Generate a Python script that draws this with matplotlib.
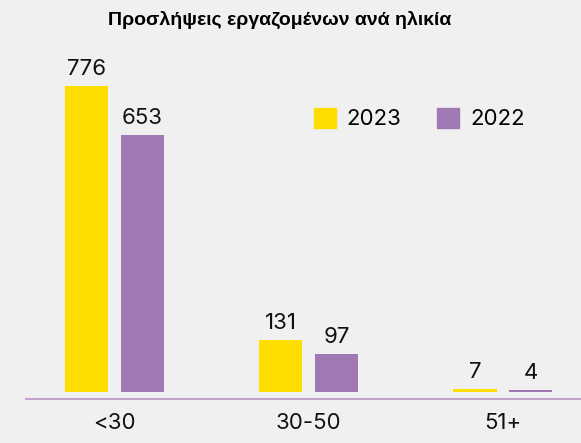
import numpy as np
import matplotlib
matplotlib.use('Agg')
import matplotlib.pyplot as plt
from matplotlib.patches import Patch

# data
categories = ['<30', '30-50', '51+']
values_2023 = [776, 131, 7]
values_2022 = [653, 97, 4]
series_names = ['2023', '2022']

title = 'Προσλήψεις εργαζομένων ανά ηλικία'

bg = '#f0f0f0'
yellow = '#ffdd00'
purple = '#a078b4'
line_col = '#c0a0cc'

plt.rcParams['font.family'] = ['Inter', 'DejaVu Sans']

fig = plt.figure(figsize=(5.81, 4.43), dpi=100, facecolor=bg)
ax = fig.add_axes([26 / 581, 44 / 443, 1 - 26 / 581, (399 - 60) / 443])
ax.set_facecolor(bg)

x = np.arange(len(categories))
w = 0.222
off = 0.144
b1 = ax.bar(x - off, values_2023, w, color=yellow)
b2 = ax.bar(x + off, values_2022, w, color=purple)

for bars, vals in [(b1, values_2023), (b2, values_2022)]:
    for bar, v in zip(bars, vals):
        ax.annotate(str(v), (bar.get_x() + bar.get_width() / 2, v),
                    xytext=(0, 5), textcoords='offset points',
                    ha='center', va='bottom', fontsize=16, color='#111111')

ax.set_xlim(-0.456, 2.402)
ax.set_ylim(-17.8, 842)
ax.set_xticks(x)
ax.set_xticklabels(categories, fontsize=16, color='#111111')
ax.tick_params(axis='x', length=0, pad=10)
ax.set_yticks([])
for s in ['top', 'right', 'left']:
    ax.spines[s].set_visible(False)
ax.spines['bottom'].set_color(line_col)
ax.spines['bottom'].set_linewidth(1.5)

handles = [Patch(color=yellow), Patch(color=purple)]
ax.legend(handles, series_names, loc='upper left', bbox_to_anchor=(0.482, 0.918),
          ncol=2, frameon=False, fontsize=16, handlelength=1.0, handleheight=1.0,
          handletextpad=0.5, columnspacing=1.6)

fig.text(280 / 581, 1 - 20 / 443, title, ha='center', va='center',
         fontsize=14, fontweight='bold', family=['Liberation Sans', 'DejaVu Sans'])

fig.savefig('out.png', dpi=100, facecolor=bg)
